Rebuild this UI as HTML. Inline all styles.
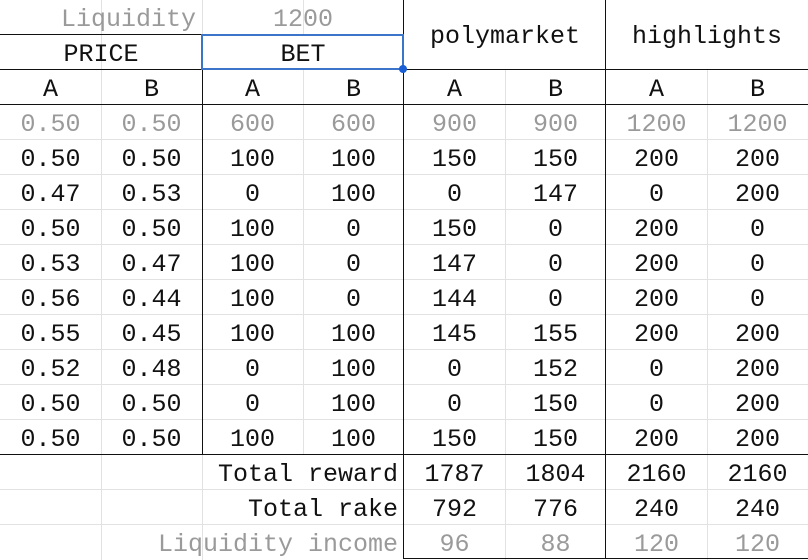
<!DOCTYPE html>
<html><head><meta charset="utf-8">
<style>
html,body{margin:0;padding:0;background:#fff;}
#sheet{position:relative;width:808px;height:560px;overflow:hidden;font-family:"Liberation Mono",monospace;font-size:25px;color:#111;}
.c{position:absolute;height:35px;line-height:35px;white-space:pre;padding-top:2px;box-sizing:border-box;}
.g{color:#9a9a9a;}
.l{position:absolute;}
</style></head>
<body>
<div id="sheet"></div>
<script>
const priceA=["0.50","0.50","0.47","0.50","0.53","0.56","0.55","0.52","0.50","0.50"];
const priceB=["0.50","0.50","0.53","0.50","0.47","0.44","0.45","0.48","0.50","0.50"];
const betA=[600,100,0,100,100,100,100,0,0,100];
const betB=[600,100,100,0,0,0,100,100,100,100];
const polyA=[900,150,0,150,147,144,145,0,0,150];
const polyB=[900,150,147,0,0,0,155,152,150,150];
const hlA=[1200,200,0,200,200,200,200,0,0,200];
const hlB=[1200,200,200,0,0,0,200,200,200,200];
const totalReward=[1787,1804,2160,2160];
const totalRake=[792,776,240,240];
const liqIncome=[96,88,120,120];

const S=document.getElementById('sheet');
const CW=101,RH=35;
function cell(text,col,row,span,align,cls,name){
  const d=document.createElement('div');
  d.className='c'+(cls?' '+cls:'');
  d.style.left=(col*CW)+'px';d.style.top=(row*RH)+'px';
  d.style.width=(span*CW-(align==='right'?6:0))+'px';
  d.style.textAlign=align||'center';
  d.textContent=text;
  
  
  S.appendChild(d);return d;
}
function line(x,y,w,h,c,name){
  const d=document.createElement('div');d.className='l';
  d.style.left=x+'px';d.style.top=y+'px';d.style.width=w+'px';d.style.height=h+'px';d.style.background=c;
  
  
  S.appendChild(d);
}
const LG='#e2e2e2',BK='#111';
for(let r=1;r<16;r++) line(0,r*RH-1,808,1,LG,'row-gridline');
[101,202,303,505,707].forEach(x=>line(x,0,1,560,LG,'col-gridline'));
line(102,0,100,69,'#fff','header-mask');
line(102,35,300,34,'#fff','header-mask');
line(404,0,404,69,'#fff','header-mask');
line(203,455,200,105,'#fff','label-mask');
for(let r=13;r<16;r++) line(203,r*RH-1,200,1,LG,'row-gridline');
line(0,34,403,1,BK,'header-border');
line(0,69,808,1,BK,'header-border');
line(0,104,808,1,BK,'header-border');
line(0,454,808,1,BK,'body-border');
line(403,558,405,1,BK,'footer-border');
line(202,35,1,420,BK,'bet-border');
line(403,0,1,559,BK,'poly-border');
line(605,0,1,559,BK,'highlights-border');

cell('Liquidity',0,0,2,'right','g','liquidity-label');
cell('1200',2,0,2,'center','g','liquidity-value');
cell('PRICE',0,1,2,'center','','price-header');
cell('BET',2,1,2,'center','','bet-header');
const ph=cell('polymarket',4,0,2,'center','','polymarket-header');ph.style.height='70px';ph.style.lineHeight='70px';
const hh=cell('highlights',6,0,2,'center','','highlights-header');hh.style.height='70px';hh.style.lineHeight='70px';
for(let c=0;c<8;c++) cell(c%2?'B':'A',c,2,1,'center','','outcome-header');
const cols=[priceA,priceB,betA,betB,polyA,polyB,hlA,hlB];
for(let i=0;i<priceA.length;i++){
  cols.forEach((arr,c)=>cell(String(arr[i]),c,3+i,1,'center',i===0?'g':'','data-cell'));
}
cell('Total reward',1,13,3,'right','','total-reward-label');
cell('Total rake',1,14,3,'right','','total-rake-label');
cell('Liquidity income',1,15,3,'right','g','liquidity-income-label');
for(let j=0;j<4;j++){
  cell(String(totalReward[j]),4+j,13,1,'center','','total-reward-value');
  cell(String(totalRake[j]),4+j,14,1,'center','','total-rake-value');
  cell(String(liqIncome[j]),4+j,15,1,'center','g','liquidity-income-value');
}
const sel=document.createElement('div');
sel.style.cssText='position:absolute;left:201px;top:34px;width:199px;height:32px;border:2px solid #3b74c9;';


S.appendChild(sel);
const dot=document.createElement('div');
dot.style.cssText='position:absolute;left:399px;top:65px;width:8px;height:8px;border-radius:50%;background:#1a5fd6;';


S.appendChild(dot);
</script>
</body></html>
